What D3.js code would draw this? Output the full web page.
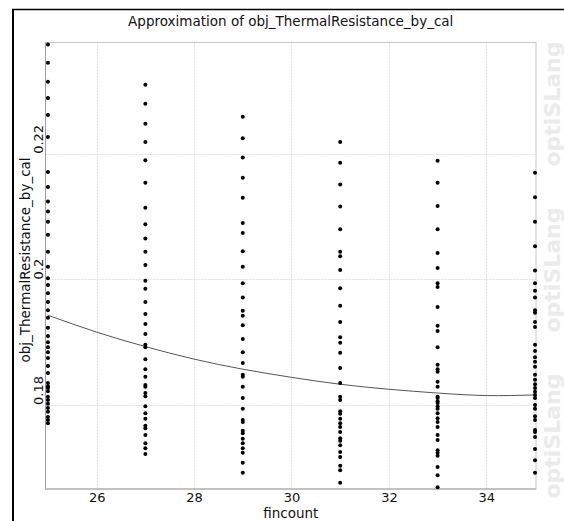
<!DOCTYPE html>
<html><head><meta charset="utf-8">
<script src="https://cdn.jsdelivr.net/npm/d3@7"></script>
<style>html,body{margin:0;padding:0;background:#fff;}svg{display:block;}</style>
</head><body>
<script>
// ---- data ----
const xTicks = [26, 28, 30, 32, 34];
const yTicks = [0.18, 0.2, 0.22];
const yTickLabels = ["0.18", "0.2", "0.22"];
const fincountLevels = [25, 27, 29, 31, 33, 35];
const samples25 = [0.2374,0.2345,0.2315,0.2289,0.2262,0.2227,0.2171,0.2147,0.2124,0.2108,0.2092,0.2071,0.2044,0.2020,0.2002,0.1991,0.1978,0.1964,0.1951,0.1939,0.1923,0.1910,0.1900,0.1892,0.1884,0.1875,0.1862,0.1851,0.1835,0.1830,0.1827,0.1822,0.1813,0.1808,0.1802,0.1795,0.1789,0.1781,0.1776,0.1771];
const samples27 = [0.2310,0.2280,0.2248,0.2219,0.2190,0.2154,0.2114,0.2088,0.2065,0.2044,0.2023,0.1998,0.1985,0.1964,0.1945,0.1929,0.1913,0.1896,0.1892,0.1873,0.1857,0.1845,0.1832,0.1829,0.1819,0.1814,0.1798,0.1787,0.1778,0.1767,0.1763,0.1752,0.1739,0.1731,0.1722];
const samples29 = [0.2259,0.2225,0.2194,0.2162,0.2130,0.2090,0.2074,0.2045,0.2020,0.1994,0.1971,0.1950,0.1942,0.1927,0.1905,0.1884,0.1867,0.1848,0.1845,0.1829,0.1811,0.1794,0.1776,0.1773,0.1759,0.1755,0.1746,0.1739,0.1731,0.1724,0.1708,0.1692];
const samples31 = [0.2219,0.2186,0.2151,0.2116,0.2080,0.2044,0.2037,0.2015,0.1986,0.1958,0.1932,0.1908,0.1899,0.1883,0.1859,0.1835,0.1813,0.1808,0.1790,0.1786,0.1778,0.1771,0.1765,0.1757,0.1747,0.1743,0.1736,0.1725,0.1717,0.1703,0.1696,0.1676];
const samples33 = [0.2189,0.2154,0.2117,0.2080,0.2042,0.2018,0.1994,0.1988,0.1956,0.1926,0.1918,0.1892,0.1864,0.1857,0.1853,0.1837,0.1829,0.1813,0.1811,0.1806,0.1803,0.1798,0.1794,0.1787,0.1779,0.1773,0.1765,0.1752,0.1744,0.1728,0.1724,0.1719,0.1701,0.1688,0.1669];
const samples35 = [0.2170,0.2131,0.2092,0.2053,0.2014,0.1994,0.1982,0.1971,0.1951,0.1947,0.1932,0.1924,0.1896,0.1886,0.1876,0.1869,0.1861,0.1848,0.1840,0.1833,0.1827,0.1821,0.1816,0.1811,0.1800,0.1794,0.1782,0.1776,0.1760,0.1757,0.1749,0.1730,0.1712,0.1692];
const curveX = [25,26,27,28,29,30,31,32,33,34,35];
const curveY = [0.1943,0.1916,0.1893,0.1873,0.1857,0.1844,0.1833,0.1825,0.1819,0.1815,0.1816];

const W = 564, H = 521;
const L = 45.5, R = 536, T = 42.5, B = 489;
const FONT = "'DejaVu Sans', Verdana, sans-serif";

const svg = d3.select("body").append("svg").attr("width", W).attr("height", H);

const x = d3.scaleLinear().domain([24.95, 35.02]).range([L, R]);
const y = d3.scaleLinear().domain([0.166614, 0.237737]).range([B, T]);

// watermark
[104, 270, 436].forEach(cy => {
  svg.append("text")
    .attr("transform", `translate(560,${cy}) rotate(-90)`)
    .attr("text-anchor", "middle")
    .attr("font-family", FONT).attr("font-weight", "bold")
    .attr("font-size", 22).attr("fill", "#ebebeb")
    .text("optiSLang");
});

// frame
svg.append("line").attr("x1", 12).attr("x2", W).attr("y1", 9.5).attr("y2", 9.5)
  .attr("stroke", "#000").attr("stroke-width", 1.5);
svg.append("line").attr("x1", 13).attr("x2", 13).attr("y1", 9).attr("y2", H)
  .attr("stroke", "#000").attr("stroke-width", 2);

// title
svg.append("text").attr("x", (L + R) / 2).attr("y", 26)
  .attr("text-anchor", "middle").attr("font-family", FONT)
  .attr("font-size", 13.5).attr("fill", "#111")
  .text("Approximation of obj_ThermalResistance_by_cal");

// grid
const g = svg.append("g");
g.selectAll("line.vx").data(xTicks).join("line")
  .attr("x1", d => Math.round(x(d)) + 0.5).attr("x2", d => Math.round(x(d)) + 0.5)
  .attr("y1", T).attr("y2", B)
  .attr("stroke", "#e0e0e0").attr("stroke-width", 1).attr("stroke-dasharray", "2,1");
g.selectAll("line.hy").data(yTicks).join("line")
  .attr("y1", d => Math.round(y(d)) + 0.5).attr("y2", d => Math.round(y(d)) + 0.5)
  .attr("x1", L).attr("x2", R)
  .attr("stroke", "#e0e0e0").attr("stroke-width", 1).attr("stroke-dasharray", "2,1");

// plot border
svg.append("rect").attr("x", L).attr("y", T).attr("width", R - L).attr("height", B - T)
  .attr("fill", "none").attr("stroke", "#c8c8c8").attr("stroke-width", 1);
svg.append("line").attr("x1", L).attr("x2", L).attr("y1", T).attr("y2", B).attr("stroke", "#a0a0a0");
svg.append("line").attr("x1", L).attr("x2", R).attr("y1", B).attr("y2", B).attr("stroke", "#a0a0a0");

// x axis tick labels
const xAxis = d3.axisBottom(x).tickValues(xTicks).tickSize(0).tickPadding(0).tickFormat(d3.format("d"));
const xa = svg.append("g").attr("transform", `translate(0,${B})`).call(xAxis);
xa.select(".domain").remove();
xa.selectAll("text").attr("dy", null).attr("y", 13).attr("font-family", FONT).attr("font-size", 13).attr("fill", "#111");

// y axis tick labels (rotated)
const ya = svg.append("g");
ya.selectAll("text").data(yTicks).join("text")
  .attr("transform", d => `translate(43,${y(d)}) rotate(-90)`)
  .attr("text-anchor", "start").attr("font-family", FONT).attr("font-size", 13).attr("fill", "#111")
  .text((d, i) => yTickLabels[i]);

// axis titles
svg.append("text").attr("x", (L + R) / 2).attr("y", 518)
  .attr("text-anchor", "middle").attr("font-family", FONT).attr("font-size", 13.5).attr("fill", "#111")
  .text("fincount");
svg.append("text").attr("transform", `translate(30,260) rotate(-90)`)
  .attr("text-anchor", "middle").attr("font-family", FONT).attr("font-size", 13.5).attr("fill", "#111")
  .text("obj_ThermalResistance_by_cal");

// curve
const curvePts = curveX.map((v, i) => [v, curveY[i]]);
svg.append("path").datum(curvePts)
  .attr("d", d3.line().x(d => x(d[0])).y(d => y(d[1])).curve(d3.curveNatural))
  .attr("fill", "none").attr("stroke", "#555").attr("stroke-width", 1);

// points
const sampleSets = [samples25, samples27, samples29, samples31, samples33, samples35];
const pts = [];
sampleSets.forEach((arr, i) => arr.forEach(v => pts.push([fincountLevels[i], v])));
svg.append("g").selectAll("circle").data(pts).join("circle")
  .attr("cx", d => x(d[0])).attr("cy", d => y(d[1])).attr("r", 2).attr("fill", "#000");
</script>
</body></html>
